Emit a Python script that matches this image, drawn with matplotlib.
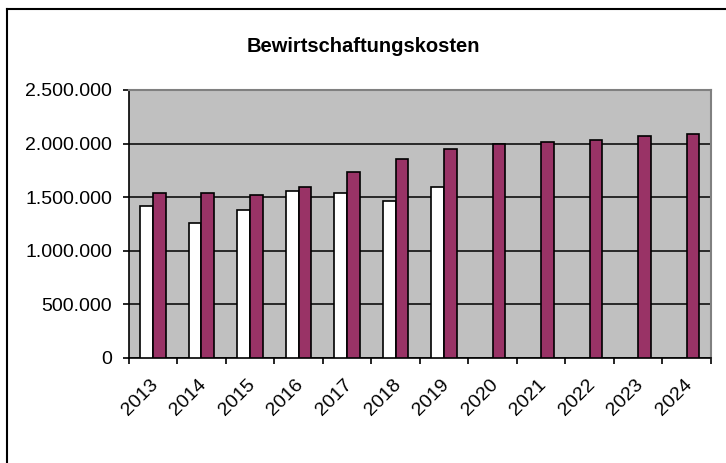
import numpy as np
import matplotlib
matplotlib.use("Agg")
from matplotlib import pyplot as plt
from matplotlib.ticker import FuncFormatter, MultipleLocator
from matplotlib.lines import Line2D
from matplotlib.transforms import ScaledTranslation

plt.rcParams['font.family'] = ['Liberation Sans', 'DejaVu Sans']

years = ["2013", "2014", "2015", "2016", "2017", "2018", "2019",
         "2020", "2021", "2022", "2023", "2024"]
# white series (Ist), only up to 2019
ist = [1418000, 1258000, 1380000, 1559000, 1540000, 1468000, 1596000]
# maroon series (Plan)
plan = [1540000, 1540000, 1521000, 1596000, 1731000, 1859000, 1947000,
        1994000, 2019000, 2035000, 2069000, 2088000]

fig = plt.figure(figsize=(7.26, 4.63), dpi=100)
ax = fig.add_axes([128.7 / 726, 1 - 357.7 / 463, (711 - 128.7) / 726, (357.7 - 90) / 463])

x = np.arange(len(years))
w = 0.26
ax.set_axisbelow(True)
ax.bar(x[:len(ist)] - w / 2, ist, w, color="white", edgecolor="black", linewidth=1.2, zorder=3)
ax.bar(x + w / 2, plan, w, color="#993366", edgecolor="black", linewidth=1.2, zorder=3)

ax.set_facecolor("#C0C0C0")
ax.set_xlim(-0.5, len(years) - 0.5)
ax.set_ylim(0, 2500000)
ax.yaxis.set_major_locator(MultipleLocator(500000))
ax.yaxis.set_major_formatter(FuncFormatter(lambda v, p: f"{int(v):,}".replace(",", ".")))
ax.grid(axis="y", color="black", linewidth=1.1)

ax.set_xticks(np.arange(-0.5, len(years), 1))
ax.set_xticklabels([])
ax.set_xticks(x, minor=True)
ax.set_xticklabels(years, minor=True, rotation=45, ha="right", va="top",
                   rotation_mode="anchor", fontsize=14)
ax.tick_params(axis="x", which="minor", length=0, pad=13.5)
ax.tick_params(axis="x", which="major", length=4.3, width=1.2, direction="out")
ax.tick_params(axis="y", length=4.3, width=1.2, direction="out", labelsize=14, pad=7.5)
shift = ScaledTranslation(-3.5 / 100, 0, fig.dpi_scale_trans)
for lab in ax.get_xticklabels(minor=True):
    lab.set_transform(lab.get_transform() + shift)

for s in ["left", "bottom"]:
    ax.spines[s].set_color("black")
    ax.spines[s].set_linewidth(1.2)
for s in ["top", "right"]:
    ax.spines[s].set_color("#808080")
    ax.spines[s].set_linewidth(1.5)

fig.text(0.5, 1 - 47 / 463, "Bewirtschaftungskosten", ha="center", va="center",
         fontsize=14.5, fontweight="bold")

# outer chart border
fig.add_artist(Line2D([7 / 726, 7 / 726], [0, 1 - 9 / 463], color="black", linewidth=1.5))
fig.add_artist(Line2D([7 / 726, 1], [1 - 9 / 463, 1 - 9 / 463], color="black", linewidth=1.5))

fig.savefig("out.png", dpi=100)
